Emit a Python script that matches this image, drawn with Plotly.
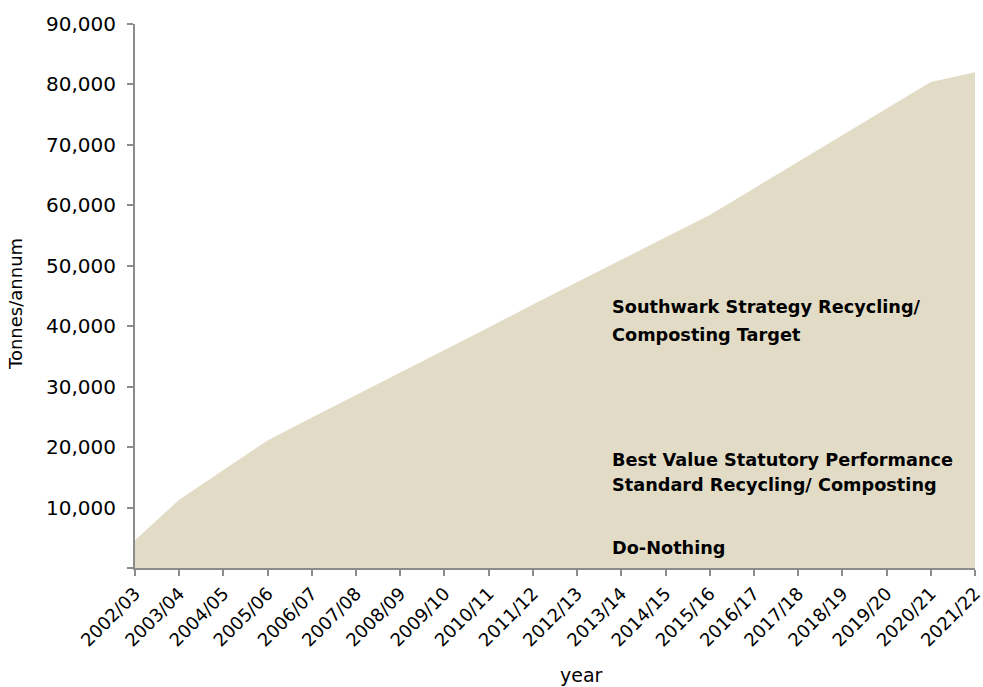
import plotly.graph_objects as go

years = ["2002/03", "2003/04", "2004/05", "2005/06", "2006/07", "2007/08", "2008/09",
         "2009/10", "2010/11", "2011/12", "2012/13", "2013/14", "2014/15", "2015/16",
         "2016/17", "2017/18", "2018/19", "2019/20", "2020/21", "2021/22"]

southwark_target = [4600, 11300, 16200, 21100, 24900, 28600, 32400, 36100, 39800, 43600,
                    47300, 51000, 54700, 58400, 62800, 67200, 71600, 76000, 80400, 82000]
best_value = [4600, 6000, 7500, 9000, 10300, 11600, 12900, 14200, 15500, 16800,
              18100, 19400, 20700, 22000, 23300, 24600, 25900, 27200, 28500, 29800]
do_nothing = [4600, 4600, 4600, 4600, 4600, 4600, 4600, 4600, 4600, 4600,
              4600, 4600, 4600, 4600, 4600, 4600, 4600, 4600, 4600, 4600]

y_ticks = [0, 10000, 20000, 30000, 40000, 50000, 60000, 70000, 80000, 90000]
y_ticktext = ["", "10,000", "20,000", "30,000", "40,000", "50,000", "60,000", "70,000", "80,000", "90,000"]

fill_col = "#E2DCC6"
xs = list(range(len(years)))

fig = go.Figure()
for name, vals in [("Southwark Strategy Recycling/ Composting Target", southwark_target),
                   ("Best Value Statutory Performance Standard Recycling/ Composting", best_value),
                   ("Do-Nothing", do_nothing)]:
    fig.add_trace(go.Scatter(x=xs, y=vals, mode="lines", name=name, fill="tozeroy",
                             fillcolor=fill_col, line=dict(width=0, color=fill_col),
                             showlegend=False, hoverinfo="skip"))

font_family = "DejaVu Sans"
ann_font = dict(family=font_family, size=17.7, color="#000000")
labels = [
    ("<b>Southwark Strategy Recycling/</b>", 307),
    ("<b>Composting Target</b>", 335),
    ("<b>Best Value Statutory Performance</b>", 460),
    ("<b>Standard Recycling/ Composting</b>", 485),
    ("<b>Do-Nothing</b>", 548),
]
x0, x1, y0, y1 = 135, 975, 568, 24
for txt, py in labels:
    fig.add_annotation(x=(610 - x0) / (x1 - x0), y=(y0 - py) / (y0 - y1), xref="paper", yref="paper",
                       xanchor="left", yanchor="middle", align="left", showarrow=False,
                       text=txt, font=ann_font)

title_font = dict(family=font_family, size=19, color="#000000")
fig.add_annotation(x=(581 - x0) / (x1 - x0), y=(y0 - 675) / (y0 - y1), xref="paper", yref="paper",
                   xanchor="center", yanchor="middle", showarrow=False, text="year", font=title_font)
fig.add_annotation(x=(15 - x0) / (x1 - x0), y=(y0 - 304) / (y0 - y1), xref="paper", yref="paper",
                   xanchor="center", yanchor="middle", showarrow=False, text="Tonnes/annum",
                   textangle=-90, font=dict(family=font_family, size=18, color="#000000"))

axis_col = "#8C8C8C"
fig.update_layout(
    width=983, height=687,
    margin=dict(l=135, r=8, t=24, b=119),
    plot_bgcolor="white", paper_bgcolor="white",
    font=dict(family=font_family, color="#000000"),
    xaxis=dict(range=[0, 19], tickvals=xs, ticktext=years, tickangle=-45, automargin=False,
               ticklabeloverflow="allow",
               showgrid=False, zeroline=False, showline=True, linecolor=axis_col, linewidth=2,
               ticks="outside", ticklen=6, tickwidth=2, tickcolor=axis_col,
               tickfont=dict(family=font_family, size=18, color="#000000")),
    yaxis=dict(range=[0, 90000], tickvals=y_ticks, ticktext=y_ticktext, automargin=False,
               ticklabeloverflow="allow",
               showgrid=False, zeroline=False, showline=True, linecolor=axis_col, linewidth=2,
               ticks="outside", ticklen=6, tickwidth=2, tickcolor=axis_col, ticklabelstandoff=7,
               tickfont=dict(family=font_family, size=20, color="#000000")),
)

fig.write_html("out.html", config={"displayModeBar": False},
               post_script="document.body.style.margin='0';document.body.style.overflow='hidden';")
